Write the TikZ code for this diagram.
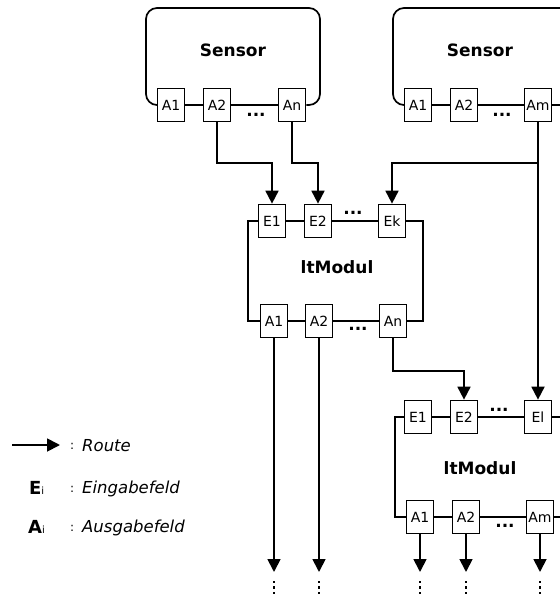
\documentclass[tikz,border=0pt]{standalone}
\usepackage{fontspec}
\setmainfont{DejaVu Sans}
\usetikzlibrary{arrows.meta}
\begin{document}
\begin{tikzpicture}[x=1pt,y=-1pt,
  port/.style={draw,line width=1.7pt,minimum width=27pt,minimum height=33pt,inner sep=0pt,fill=white,font=\fontsize{14}{14}\selectfont},
  wire/.style={line width=1.7pt},
  route/.style={line width=1.8pt,-{Triangle[length=13pt,width=13pt]}},
  title/.style={font=\bfseries\fontsize{17}{17}\selectfont},
  dotsl/.style={font=\bfseries\fontsize{17}{17}\selectfont,anchor=base,inner sep=0pt},
  legtxt/.style={anchor=base west,inner sep=0pt,font=\itshape\fontsize{16.5}{16.5}\selectfont},
  colon/.style={anchor=base west,inner sep=0pt,font=\fontsize{12}{12}\selectfont},
  vdot/.style={fill=black,inner sep=0pt,minimum size=2.8pt}]
\useasboundingbox (0,0) rectangle (560,595);

% ---------- Sensor 1 ----------
\node[port] (s1a1) at (171,105) {A1};
\node[port] (s1a2) at (217,105) {A2};
\node[port] (s1an) at (292,105) {An};
\draw[wire,rounded corners=11pt] (s1a1.west) -- (146,105) -- (146,8) -- (320,8) -- (320,105) -- (s1an.east);
\draw[wire] (s1a1) -- (s1a2) -- (s1an);
\node[title] (s1t) at (233,50) {Sensor};
\node[dotsl] (s1d) at (256,116) {...};

% ---------- Sensor 2 ----------
\node[port] (s2a1) at (418,105) {A1};
\node[port] (s2a2) at (464,105) {A2};
\node[port] (s2am) at (538,105) {Am};
\coordinate (s2r) at (560,105);
\draw[wire,rounded corners=11pt] (s2a1.west) -- (393,105) -- (393,8) -- (560,8);
\draw[wire] (s2a1) -- (s2a2) -- (s2am) -- (s2r);
\node[title] (s2t) at (480,50) {Sensor};
\node[dotsl] (s2d) at (502,116) {...};

% ---------- ltModul 1 ----------
\node[port] (m1e1) at (272,221) {E1};
\node[port] (m1e2) at (318,221) {E2};
\node[port] (m1ek) at (392,221) {Ek};
\node[port] (m1a1) at (274,321) {A1};
\node[port] (m1a2) at (319,321) {A2};
\node[port] (m1an) at (393,321) {An};
\draw[wire] (m1e1.west) -- (248,221) -- (248,321) -- (m1a1.west);
\draw[wire] (m1ek.east) -- (423,221) -- (423,321) -- (m1an.east);
\draw[wire] (m1e1) -- (m1e2) -- (m1ek);
\draw[wire] (m1a1) -- (m1a2) -- (m1an);
\node[title] (m1t) at (337,267) {ltModul};
\node[dotsl] (m1d1) at (353,214) {...};
\node[dotsl] (m1d2) at (358,330) {...};

% ---------- ltModul 2 ----------
\node[port] (m2e1) at (418,417) {E1};
\node[port] (m2e2) at (464,417) {E2};
\node[port] (m2el) at (538,417) {El};
\node[port] (m2a1) at (420,517) {A1};
\node[port] (m2a2) at (466,517) {A2};
\node[port] (m2am) at (540,517) {Am};
\coordinate (m2er) at (560,417);
\coordinate (m2ar) at (560,517);
\draw[wire] (m2e1.west) -- (395,417) -- (395,517) -- (m2a1.west);
\draw[wire] (m2e1) -- (m2e2) -- (m2el) -- (m2er);
\draw[wire] (m2a1) -- (m2a2) -- (m2am) -- (m2ar);
\node[title] (m2t) at (480,468) {ltModul};
\node[dotsl] (m2d1) at (499,411) {...};
\node[dotsl] (m2d2) at (505,527) {...};

% ---------- routes ----------
\draw[route] (s1a2.south) -- (s1a2.south |- 0,163) -| (m1e1.north);
\draw[route] (s1an.south) -- (s1an.south |- 0,163) -| (m1e2.north);
\draw[route] (s2am.south) -- (s2am.south |- 0,163) -| (m1ek.north);
\draw[route] (s2am.south) -- (m2el.north);
\draw[route] (m1an.south) -- (m1an.south |- 0,371) -| (m2e2.north);

\foreach \n/\x in {m1a1/274, m1a2/319, m2a1/420, m2a2/466, m2am/540}{
  \coordinate (\n-end) at (\x,572);
  \draw[route] (\n.south) -- (\n-end);
  \node[vdot] (\n-d1) at (\x,582) {};
  \node[vdot] (\n-d2) at (\x,587.5) {};
  \node[vdot] (\n-d3) at (\x,593) {};
}

% ---------- legend ----------
\coordinate (lg1) at (12,445);
\coordinate (lg2) at (60,445);
\draw[route] (lg1) -- (lg2);
\node[colon] (lc1) at (70,449) {:};
\node[legtxt] (lt1) at (82,451) {Route};
\node[anchor=base west,inner sep=0pt] (le) at (29,494) {\bfseries\fontsize{18}{18}\selectfont E\mdseries\fontsize{10}{10}\selectfont i};
\node[colon] (lc2) at (70,492) {:};
\node[legtxt] (lt2) at (82,493) {Eingabefeld};
\node[anchor=base west,inner sep=0pt] (la) at (28,533) {\bfseries\fontsize{18}{18}\selectfont A\mdseries\fontsize{10}{10}\selectfont i};
\node[colon] (lc3) at (70,531) {:};
\node[legtxt] (lt3) at (82,532) {Ausgabefeld};
\end{tikzpicture}
\end{document}
